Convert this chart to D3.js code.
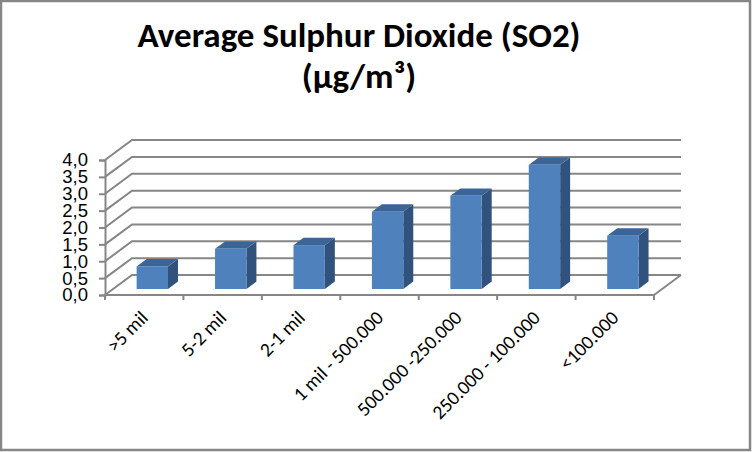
<!DOCTYPE html>
<html>
<head>
<meta charset="utf-8">
<script src="https://cdn.jsdelivr.net/npm/d3@7/dist/d3.min.js"></script>
<style>
  body { margin: 0; background: #fff; }
  svg { display: block; font-family: Carlito, Lato, "Noto Sans", sans-serif; }
</style>
</head>
<body>
<svg id="chart" width="752" height="452"></svg>
<script>
// data
const categories = [">5 mil", "5-2 mil", "2-1 mil", "1 mil - 500.000", "500.000 -250.000", "250.000 - 100.000", "<100.000"];
const so2Values = [0.67, 1.19, 1.30, 2.29, 2.76, 3.68, 1.58];
const yTicks = [0, 0.5, 1, 1.5, 2, 2.5, 3, 3.5, 4];
const titleLines = ["Average Sulphur Dioxide (SO2)", "(\u00b5g/m\u00b3)"];

const cfg = {
  plot: { left: 105, right: 654, top: 160, bottom: 295 },
  depth: { dx: 27, dy: -20 },     // oblique offset of back wall
  bar: { front: 0.3, back: 0.67, width: 0.4 },
  grid: '#868686',
  colors: { front: '#4F81BD', top: '#3B6597', side: '#30527C' }
};

const svg = d3.select("#chart");

// outer border
svg.append("rect")
  .attr("x", 1).attr("y", 1).attr("width", 749).attr("height", 449)
  .attr("fill", "#fff").attr("stroke", cfg.grid).attr("stroke-width", 2.5);

// title
svg.append("text")
  .attr("text-anchor", "middle")
  .attr("font-weight", "bold")
  .attr("font-size", 35)
  .attr("fill", "#000")
  .selectAll("tspan")
  .data(titleLines)
  .join("tspan")
    .attr("x", 359)
    .attr("y", (d, i) => 47 + i * 41)
    .text(d => d);

const xScale = d3.scaleBand().domain(categories).range([cfg.plot.left, cfg.plot.right]);
const yScale = d3.scaleLinear().domain([0, 4]).range([cfg.plot.bottom, cfg.plot.top]);
const dx = cfg.depth.dx, dy = cfg.depth.dy;

// gridlines: side wall diagonal + back wall
const grid = svg.append("g").attr("fill", "none").attr("stroke", cfg.grid).attr("stroke-width", 2);
grid.selectAll("polyline")
  .data(yTicks)
  .join("polyline")
    .attr("points", d => {
      const y = yScale(d);
      return [[cfg.plot.left, y], [cfg.plot.left + dx, y + dy], [cfg.plot.right + dx, y + dy]].join(" ");
    });
// floor right edge
grid.append("line")
  .attr("x1", cfg.plot.right).attr("y1", yScale(0))
  .attr("x2", cfg.plot.right + dx).attr("y2", yScale(0) + dy);

// bars (front, top, side)
const bw = xScale.bandwidth() * cfg.bar.width;
const bars = svg.append("g").selectAll("g")
  .data(categories.map((c, i) => ({ cat: c, value: so2Values[i] })))
  .join("g");

const fx = cfg.bar.front * dx, fy = cfg.bar.front * dy;
const bdx = (cfg.bar.back - cfg.bar.front) * dx, bdy = (cfg.bar.back - cfg.bar.front) * dy;

bars.append("polygon")
  .attr("fill", cfg.colors.side)
  .attr("points", d => {
    const x1 = xScale(d.cat) + xScale.bandwidth() / 2 + bw / 2 + fx;
    const y0 = yScale(0) + fy, y1 = yScale(d.value) + fy;
    return [[x1, y0], [x1 + bdx, y0 + bdy], [x1 + bdx, y1 + bdy], [x1, y1]].join(" ");
  });
bars.append("polygon")
  .attr("fill", cfg.colors.top)
  .attr("points", d => {
    const x0 = xScale(d.cat) + xScale.bandwidth() / 2 - bw / 2 + fx;
    const y1 = yScale(d.value) + fy;
    return [[x0, y1], [x0 + bw, y1], [x0 + bw + bdx, y1 + bdy], [x0 + bdx, y1 + bdy]].join(" ");
  });
bars.append("rect")
  .attr("fill", cfg.colors.front)
  .attr("x", d => xScale(d.cat) + xScale.bandwidth() / 2 - bw / 2 + fx)
  .attr("y", d => yScale(d.value) + fy)
  .attr("width", bw)
  .attr("height", d => yScale(0) - yScale(d.value));

// y axis
const yAxis = d3.axisLeft(yScale)
  .tickValues(yTicks)
  .tickSize(6)
  .tickPadding(11)
  .tickFormat(d => d3.format(".1f")(d).replace(".", ","));
const yg = svg.append("g").attr("transform", `translate(${cfg.plot.left},0)`).call(yAxis);
yg.select(".domain").attr("stroke", cfg.grid).attr("stroke-width", 2);
yg.selectAll(".tick line").attr("stroke", cfg.grid).attr("stroke-width", 2);
yg.selectAll(".tick text").attr("font-size", 18.5).attr("font-family", null).attr("fill", "#000");

// x axis (category boundaries as ticks)
const xg = svg.append("g").attr("transform", `translate(0,${cfg.plot.bottom})`);
xg.append("line")
  .attr("x1", cfg.plot.left).attr("x2", cfg.plot.right)
  .attr("stroke", cfg.grid).attr("stroke-width", 2);
xg.selectAll("line.tk")
  .data(categories.concat([null]))
  .join("line")
    .attr("class", "tk")
    .attr("x1", (d, i) => cfg.plot.left + i * xScale.step())
    .attr("x2", (d, i) => cfg.plot.left + i * xScale.step())
    .attr("y1", 0).attr("y2", 5)
    .attr("stroke", cfg.grid).attr("stroke-width", 2);
xg.selectAll("text")
  .data(categories)
  .join("text")
    .attr("text-anchor", "end")
    .attr("font-size", 19.5)
    .attr("fill", "#000")
    .attr("transform", d => `translate(${xScale(d) + xScale.bandwidth() / 2 + 5},${24}) rotate(-45)`)
    .text(d => d);
</script>
</body>
</html>
